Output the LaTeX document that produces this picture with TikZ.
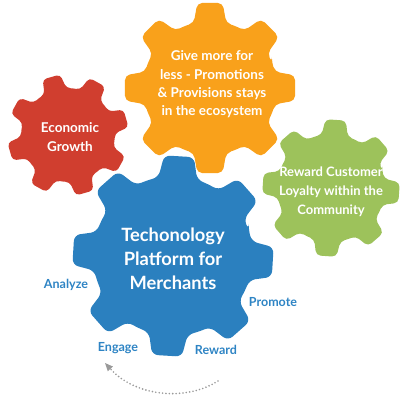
\documentclass[tikz,border=0pt]{standalone}
\usepackage{fontspec}
\setmainfont{Lato}
\usetikzlibrary{arrows.meta}
\definecolor{gblue}{HTML}{2B80BF}
\definecolor{gorange}{HTML}{F9A11B}
\definecolor{gred}{HTML}{D03E2F}
\definecolor{ggreen}{HTML}{9DC25B}
\definecolor{lblue}{HTML}{2E84C4}
\definecolor{arrgray}{HTML}{9A9A9A}
% #1 cx, #2 cy, #3 R, #4 r, #5 rotation, #6 corner radius, #7 colour
\newcommand\mygear[7]{%
  \fill[#7, rounded corners=#6pt, shift={(#1,#2)}]
    ({#5-22.5}:#4)
    \foreach \a in {0,45,...,315} {
      -- ({\a+#5-14}:#4) -- ({\a+#5-8.5}:#3) -- ({\a+#5+8.5}:#3) -- ({\a+#5+14}:#4) -- ({\a+#5+22.5}:#4)
    } -- cycle;
}
\tikzset{
  geartext/.style={text=white, font=\bfseries, align=center, inner sep=0pt},
  lbl/.style={text=lblue, font=\bfseries\fontsize{12.5}{14}\selectfont, inner sep=0pt},
  cycarrow/.style={draw=arrgray, line width=1.8pt, line cap=round, dash pattern=on 0pt off 3.4pt, -{Triangle[length=8pt,width=7pt,fill=arrgray,line width=0pt]}},
}
\begin{document}
\begin{tikzpicture}[x=1pt,y=-1pt]
\useasboundingbox (0,0) rectangle (403,412);
\mygear{68}{135}{61}{47}{29}{4}{gred}
\mygear{210}{88}{86}{67}{0}{5}{gorange}
\mygear{331}{188}{69}{54}{4}{4.5}{ggreen}
\mygear{173}{256}{101}{80}{3.5}{6}{gblue}

\node[geartext, font=\bfseries\fontsize{13.5}{19}\selectfont] (red) at (70,137.5) {Economic\\Growth};
\node[geartext, font=\bfseries\fontsize{13.5}{18.3}\selectfont] (orange) at (212,84.5) {Give more for\\less - Promotions\\\& Provisions stays\\in the ecosystem};
\node[geartext, font=\bfseries\fontsize{13}{19}\selectfont] (green) at (331,192) {Reward Customer\\Loyalty within the\\Community};
\node[geartext, font=\bfseries\fontsize{18.3}{24}\selectfont] (blue) at (173,259) {Techonology\\Platform for\\Merchants};

\node[lbl] (analyze) at (66,285) {Analyze};
\node[lbl] (promote) at (273,302) {Promote};
\node[lbl] (engage) at (118,348) {Engage};
\node[lbl] (reward) at (216,350) {Reward};

\coordinate (arrS) at (218,381);
\coordinate (arrE) at (105,363);
\draw[cycarrow] (arrS) .. controls (185,402) and (135,396) .. (arrE);
\end{tikzpicture}
\end{document}
